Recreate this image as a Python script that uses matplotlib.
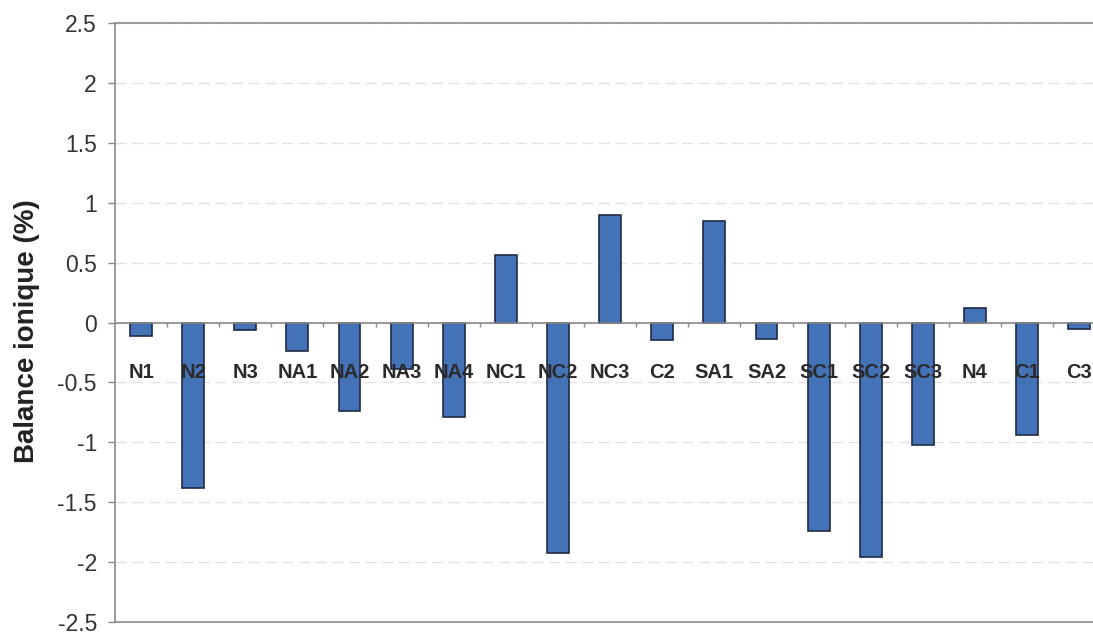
import matplotlib
matplotlib.use("Agg")
import matplotlib.pyplot as plt
import numpy as np

# Ionic balance per sampling point
stations = ['N1', 'N2', 'N3', 'NA1', 'NA2', 'NA3', 'NA4', 'NC1', 'NC2', 'NC3',
            'C2', 'SA1', 'SA2', 'SC1', 'SC2', 'SC3', 'N4', 'C1', 'C3']
balance = [-0.11, -1.38, -0.06, -0.24, -0.74, -0.39, -0.79, 0.56, -1.92, 0.90,
           -0.15, 0.85, -0.14, -1.74, -1.96, -1.02, 0.12, -0.94, -0.05]
y_ticks = [2.5, 2, 1.5, 1, 0.5, 0, -0.5, -1, -1.5, -2, -2.5]

plt.rcParams['font.family'] = ['Liberation Sans', 'DejaVu Sans']

fig = plt.figure(figsize=(10.93, 6.34), dpi=100)
ax = fig.add_axes([0.1052, 0.0189, 0.906, 0.9448])

x = np.arange(len(stations))
ax.bar(x, balance, width=0.42, color='#4472b6', edgecolor='#1e2b47',
       linewidth=1.2, zorder=3)

ax.set_xlim(-0.5, len(stations) - 0.5)
ax.set_ylim(-2.5, 2.5)
ax.set_yticks(y_ticks)
ax.set_yticklabels([f'{t:g}' for t in y_ticks], fontsize=16.5, color='#333333')
ax.tick_params(axis='y', direction='out', length=5, width=1, color='#888888', pad=8)
ax.set_xticks([])

# dashed light grid
ax.grid(axis='y', color='#e2e2e2', linestyle=(0, (8, 4)), linewidth=1, zorder=0)

for side in ['top', 'bottom', 'left', 'right']:
    ax.spines[side].set_color('#8a8a8a')
    ax.spines[side].set_linewidth(1.2)

# category axis drawn at zero with small ticks between categories
ax.axhline(0, color='#8a8a8a', linewidth=1.2, zorder=4)
ax.vlines(x[:-1] + 0.5, -0.035, 0, color='#8a8a8a', linewidth=1, zorder=4)

for xi, name in zip(x, stations):
    ax.text(xi, -0.42, name, ha='center', va='center', fontsize=14.5,
            fontweight='bold', color='#2a2a2a', zorder=5)

fig.text(27 / 1093, 1 - 331 / 634, 'Balance ionique (%)', rotation=90,
         ha='center', va='center', fontsize=20, fontweight='bold', color='#222222')

fig.savefig('out.png', dpi=100)
